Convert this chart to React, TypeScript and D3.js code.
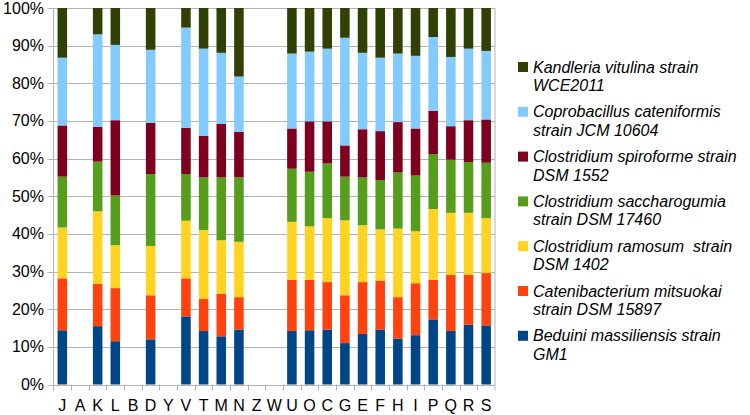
import React from 'react';
import * as d3 from 'd3';

const categories = ['J', 'A', 'K', 'L', 'B', 'D', 'Y', 'V', 'T', 'M', 'N', 'Z', 'W', 'U', 'O', 'C', 'G', 'E', 'F', 'H', 'I', 'P', 'Q', 'R', 'S'];

// percent of each bar, bottom to top; empty categories are 0
const beduini =        [14.4, 0, 15.5, 11.5, 0, 12.0, 0, 18.1, 14.2, 12.8, 14.6, 0, 0, 14.2, 14.4, 14.6, 11.0, 13.4, 14.6, 12.2, 13.1, 17.3, 14.2, 15.9, 15.7];
const catenibacterium = [13.8, 0, 11.2, 14.1, 0, 11.7, 0, 10.1, 8.5, 11.3, 8.6, 0, 0, 13.6, 13.4, 12.6, 12.7, 13.8, 13.0, 11.0, 13.8, 10.5, 14.9, 13.2, 13.9];
const ramosum =        [13.5, 0, 19.3, 11.4, 0, 13.1, 0, 15.3, 18.3, 14.2, 14.7, 0, 0, 15.4, 14.2, 17.0, 19.9, 15.1, 13.6, 18.2, 13.8, 18.8, 16.5, 16.5, 14.6];
const saccharogumia =  [13.5, 0, 13.2, 13.2, 0, 19.1, 0, 12.4, 14.0, 16.7, 17.1, 0, 0, 14.1, 14.5, 14.5, 11.6, 12.7, 13.1, 14.9, 14.8, 14.6, 14.1, 13.5, 14.7];
const spiroforme =     [13.6, 0, 9.2, 20.0, 0, 13.6, 0, 12.3, 11.0, 14.2, 12.1, 0, 0, 10.7, 13.4, 11.2, 8.3, 12.8, 13.0, 13.4, 12.5, 11.5, 8.9, 11.1, 11.5];
const coprobacillus =  [18.0, 0, 24.6, 20.0, 0, 19.4, 0, 26.6, 23.2, 18.9, 14.7, 0, 0, 19.9, 18.5, 19.3, 28.6, 20.3, 19.5, 18.2, 19.3, 19.6, 18.4, 19.0, 18.2];
const kandleria =      [13.2, 0, 7.0, 9.8, 0, 11.1, 0, 5.2, 10.8, 11.9, 18.2, 0, 0, 12.1, 11.6, 10.8, 7.9, 11.9, 13.2, 12.1, 12.7, 7.7, 13.0, 10.8, 11.4];

const seriesNames = [
  ['Beduini massiliensis strain', 'GM1'],
  ['Catenibacterium mitsuokai', 'strain DSM 15897'],
  ['Clostridium ramosum  strain', 'DSM 1402'],
  ['Clostridium saccharogumia', 'strain DSM 17460'],
  ['Clostridium spiroforme strain', 'DSM 1552'],
  ['Coprobacillus cateniformis', 'strain JCM 10604'],
  ['Kandleria vitulina strain', 'WCE2011'],
];
const seriesValues = [beduini, catenibacterium, ramosum, saccharogumia, spiroforme, coprobacillus, kandleria];
const colors = ['#004586', '#ff420e', '#ffd320', '#579d1c', '#7e0021', '#83caff', '#314004'];

const yTicks = [0, 10, 20, 30, 40, 50, 60, 70, 80, 90, 100];

const font = '"Liberation Sans", Arial, sans-serif';

export default function App() {
  const left = 53.5, right = 495, top = 8, bottom = 384.5;

  const x = d3.scaleBand().domain(categories).range([left, right]).paddingInner(0).paddingOuter(0);
  const y = d3.scaleLinear().domain([0, 100]).range([bottom, top]);
  const barW = x.bandwidth() * 0.54;

  const rows = categories.map((c, i) => {
    const r: any = { cat: c };
    seriesValues.forEach((s, k) => (r['s' + k] = s[i]));
    return r;
  });
  const keys = seriesValues.map((_, k) => 's' + k);
  const stacked = d3.stack().keys(keys)(rows);

  const legendX = 518, legendY0 = 67, itemGap = 44.8, lineGap = 18.5;
  const legendOrder = [6, 5, 4, 3, 2, 1, 0];

  return (
    <svg width={750} height={415} style={{ position: 'absolute', left: 0, top: 0, background: '#fff' }}>
      {/* grid */}
      {yTicks.map(t => (
        <line key={t} x1={left - 6} x2={right} y1={Math.round(y(t)) + 0.5} y2={Math.round(y(t)) + 0.5} stroke="#b3b3b3" strokeWidth={1} />
      ))}
      <line x1={left} x2={left} y1={top} y2={bottom + 6} stroke="#b3b3b3" />
      <line x1={right} x2={right} y1={top} y2={bottom + 6} stroke="#b3b3b3" />
      {categories.slice(1).map(c => (
        <line key={c} x1={Math.round(x(c)!) + 0.5} x2={Math.round(x(c)!) + 0.5} y1={bottom} y2={bottom + 6} stroke="#b3b3b3" />
      ))}
      {/* bars */}
      {stacked.map((layer, k) => (
        <g key={k} fill={colors[k]}>
          {layer.map((d, i) =>
            d[1] - d[0] > 0 ? (
              <rect key={i} x={x(categories[i])! + (x.bandwidth() - barW) / 2} width={barW} y={y(d[1])} height={y(d[0]) - y(d[1])} />
            ) : null
          )}
        </g>
      ))}
      {/* y labels */}
      {yTicks.map(t => (
        <text key={t} x={44} y={y(t) + 5.5} textAnchor="end" fontFamily={font} fontSize={16} fill="#000">{t + '%'}</text>
      ))}
      {/* x labels */}
      {categories.map(c => (
        <text key={c} x={x(c)! + x.bandwidth() / 2} y={411} textAnchor="middle" fontFamily={font} fontSize={16} fill="#000">{c}</text>
      ))}
      {/* legend */}
      {legendOrder.map((k, j) => {
        const cy = legendY0 + j * itemGap;
        return (
          <g key={k}>
            <rect x={legendX} y={cy - 5} width={10} height={10} fill={colors[k]} />
            <text x={533} y={cy + 5.5} fontFamily={font} fontStyle="italic" fontSize={16} fill="#000" style={{ whiteSpace: 'pre' }}>
              <tspan x={533}>{seriesNames[k][0]}</tspan>
              <tspan x={533} dy={lineGap}>{seriesNames[k][1]}</tspan>
            </text>
          </g>
        );
      })}
    </svg>
  );
}
